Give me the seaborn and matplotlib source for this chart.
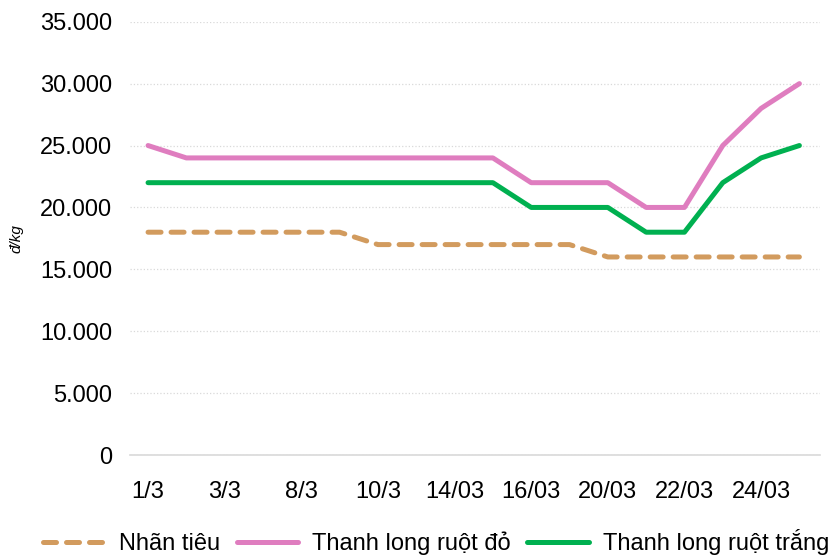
import pandas as pd
import matplotlib
matplotlib.use("Agg")
import matplotlib.pyplot as plt
import seaborn as sns
from matplotlib.ticker import FuncFormatter

# -----------------------------
# Data
# -----------------------------
dates = ["1/3", "2/3", "3/3", "7/3", "8/3", "9/3", "10/3", "13/3", "14/03",
         "15/03", "16/03", "17/03", "20/03", "21/03", "22/03", "23/03", "24/03", "25/03"]
nhan_tieu = [18000, 18000, 18000, 18000, 18000, 18000, 17000, 17000, 17000,
             17000, 17000, 17000, 16000, 16000, 16000, 16000, 16000, 16000]
ruot_do = [25000, 24000, 24000, 24000, 24000, 24000, 24000, 24000, 24000,
           24000, 22000, 22000, 22000, 20000, 20000, 25000, 28000, 30000]
ruot_trang = [22000, 22000, 22000, 22000, 22000, 22000, 22000, 22000, 22000,
              22000, 20000, 20000, 20000, 18000, 18000, 22000, 24000, 25000]

series_names = ["Nhãn tiêu", "Thanh long ruột đỏ", "Thanh long ruột trắng"]
colors = ["#D29B5E", "#DF7DBF", "#00B050"]

df = pd.DataFrame({"date": dates,
                   series_names[0]: nhan_tieu,
                   series_names[1]: ruot_do,
                   series_names[2]: ruot_trang})
long_df = df.melt(id_vars="date", var_name="loai", value_name="gia")
long_df["pos"] = long_df["date"].map({d: i for i, d in enumerate(dates)})

# -----------------------------
# Plot
# -----------------------------
sns.set_theme(style="white")
plt.rcParams["font.family"] = ["Liberation Sans", "DejaVu Sans"]

fig = plt.figure(figsize=(8.39, 5.57), dpi=100)
ax = fig.add_axes([0.155, 0.183, 0.822, 0.778])

sns.lineplot(data=long_df, x="pos", y="gia", hue="loai", style="loai",
             hue_order=series_names, style_order=series_names,
             palette=colors, dashes=[(2.6, 2.0), "", ""],
             linewidth=3.6, ax=ax, legend=True)
for line in ax.get_lines():
    line.set_dash_capstyle("round")
    line.set_solid_capstyle("round")
    line.set_solid_joinstyle("round")

ax.set_xlim(-0.47, len(dates) - 0.47)
ax.set_ylim(0, 35000)
ax.set_yticks(range(0, 35001, 5000))
ax.yaxis.set_major_formatter(FuncFormatter(lambda v, p: f"{int(v):,}".replace(",", ".")))
ax.set_xticks(range(0, len(dates), 2))
ax.set_xticklabels(dates[::2])
ax.tick_params(axis="x", length=0, pad=19, labelsize=17, labelcolor="black")
ax.tick_params(axis="y", length=0, pad=13, labelsize=17, labelcolor="black")

ax.grid(axis="y", color="#D9D9D9", linestyle=":", linewidth=0.9)
ax.set_axisbelow(True)
for side in ["top", "right", "left"]:
    ax.spines[side].set_visible(False)
ax.spines["bottom"].set_color("#D9D9D9")
ax.spines["bottom"].set_linewidth(1.2)

ax.set_xlabel("")
ax.set_ylabel("đ/kg", fontsize=11, fontstyle="italic", color="black")
ax.yaxis.set_label_coords(-0.155, 0.5)

handles, labels = ax.get_legend_handles_labels()
ax.legend_.remove()
fig.legend(handles, labels, loc="lower center", bbox_to_anchor=(0.52, -0.035),
           ncol=3, frameon=False, fontsize=17, handlelength=2.6,
           columnspacing=0.7, handletextpad=0.6, labelcolor="black")

plt.savefig("out.png", dpi=100)
plt.close()
